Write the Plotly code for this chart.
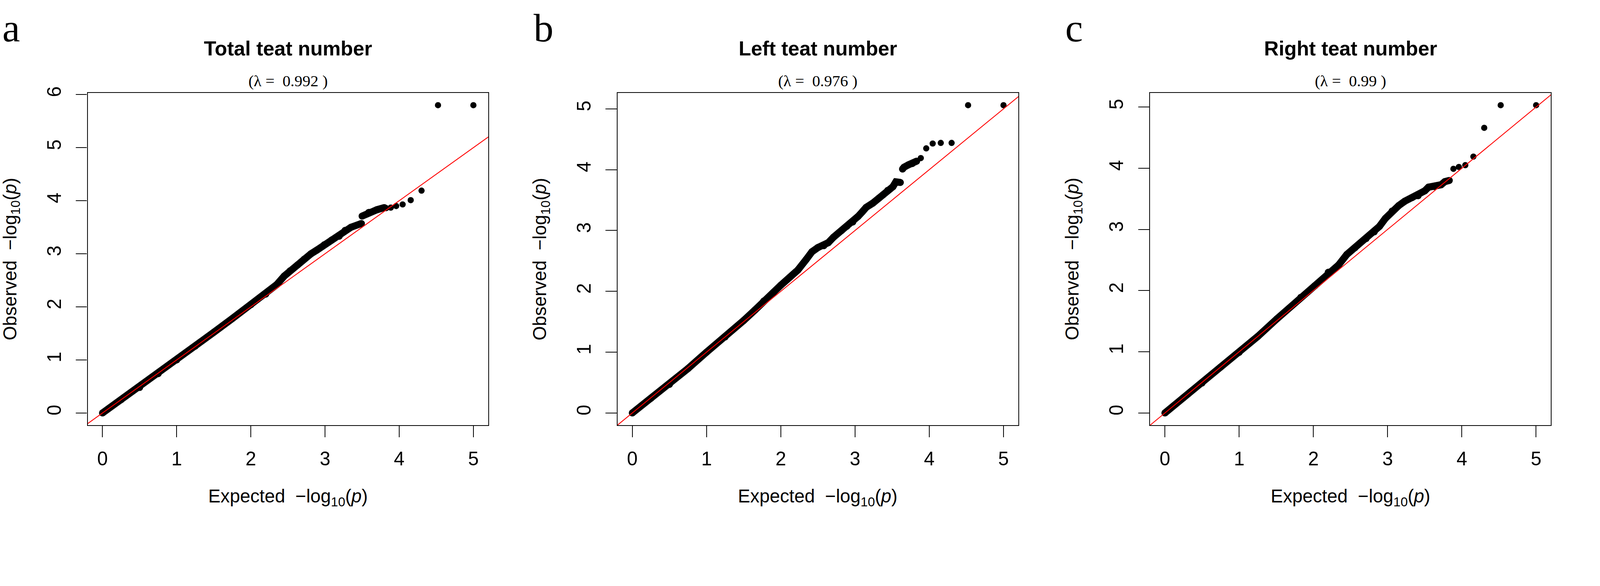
import plotly.graph_objects as go

# QQ plots of GWAS p-values
# x = expected -log10(p), y = observed -log10(p)
# dense part of each curve (None marks a small gap between clusters)
total_band_exp = [0.00, 0.25, 0.50, 0.75, 1.00, 1.25, 1.50, 1.75, 2.00, 2.20, 2.35, 2.45, 2.53, 2.63,
                  2.72, 2.81, 2.89, 2.99, 3.09, 3.19, 3.27, 3.35, 3.49, None, 3.50, 3.59, 3.70, 3.80]
total_band_obs = [0.00, 0.25, 0.48, 0.74, 1.00, 1.26, 1.52, 1.78, 2.04, 2.24, 2.42, 2.58, 2.68, 2.79,
                  2.90, 3.00, 3.07, 3.17, 3.26, 3.33, 3.44, 3.50, 3.57, None, 3.71, 3.78, 3.83, 3.87]
# top hits, drawn as single points
total_top_exp = [3.824, 3.886, 3.959, 4.046, 4.155, 4.301, 4.523, 5.0]
total_top_obs = [3.86, 3.87, 3.90, 3.93, 4.01, 4.19, 5.80, 5.80]

left_band_exp = [0.00, 0.25, 0.50, 0.75, 1.00, 1.25, 1.50, 1.65, 1.77, 1.90, 2.00, 2.12, 2.23, 2.34,
                 2.42, 2.50, 2.58, 2.64, 2.71, 2.82, 2.89, 2.97, 3.04, 3.10, 3.15, 3.24, 3.32, 3.38,
                 3.44, 3.51, 3.55, 3.61, None, 3.64, 3.66, 3.72, 3.77, 3.83]
left_band_obs = [0.00, 0.24, 0.47, 0.73, 1.00, 1.25, 1.52, 1.69, 1.84, 1.98, 2.10, 2.23, 2.35, 2.52,
                 2.65, 2.72, 2.75, 2.80, 2.89, 3.00, 3.07, 3.14, 3.23, 3.31, 3.38, 3.45, 3.53, 3.59,
                 3.66, 3.72, 3.80, 3.79, None, 4.01, 4.04, 4.08, 4.10, 4.14]
left_top_exp = [3.886, 3.959, 4.046, 4.155, 4.301, 4.523, 5.0]
left_top_obs = [4.19, 4.35, 4.43, 4.44, 4.44, 5.06, 5.06]

right_band_exp = [0.00, 0.25, 0.50, 0.75, 1.00, 1.25, 1.51, 1.83, 2.02, 2.20, 2.34, 2.45, 2.56, 2.71,
                  2.82, 2.89, 2.97, 3.06, 3.15, 3.23, 3.33, 3.41, 3.50, 3.55, 3.63, 3.72, 3.77, 3.83]
right_band_obs = [0.00, 0.25, 0.49, 0.75, 0.99, 1.25, 1.54, 1.89, 2.08, 2.30, 2.42, 2.59, 2.70, 2.85,
                  2.96, 3.05, 3.18, 3.30, 3.39, 3.46, 3.52, 3.55, 3.63, 3.69, 3.70, 3.73, 3.78, 3.80]
right_top_exp = [3.886, 3.959, 4.046, 4.155, 4.301, 4.523, 5.0]
right_top_obs = [3.99, 4.02, 4.05, 4.19, 4.66, 5.03, 5.03]

panel_letters = ['a', 'b', 'c']
panel_titles = ['Total teat number', 'Left teat number', 'Right teat number']
lambdas = ['0.992', '0.976', '0.99']

# y = x reference line
diag = [-1, 7]

SANS = 'Liberation Sans, Arial, sans-serif'
SERIF = 'Liberation Serif, Times New Roman, serif'

# the page is photographed at 1.1 device px per css px,
# so sizes below are measured in picture pixels and scaled down
S = 1 / 1.1


def px(v):
    return v * S


def r_range(vals):
    # R style axis range: data range extended by 4% on each side
    v = [a for a in vals if a is not None]
    lo, hi = min(v), max(v)
    pad = (hi - lo) * 0.04
    return [lo - pad, hi + pad]


def main():
    panels = [
        (total_band_exp, total_band_obs, total_top_exp, total_top_obs),
        (left_band_exp, left_band_obs, left_top_exp, left_top_obs),
        (right_band_exp, right_band_obs, right_top_exp, right_top_obs),
    ]
    x_domains = [[0.05496, 0.30596], [0.38696, 0.63818], [0.72074, 0.97196]]
    y_domain = [0.20453, 0.83611]
    letter_x = [0.001, 0.3338, 0.667]

    fig = go.Figure()
    annotations = []
    for i, (bx, by, tx, ty) in enumerate(panels):
        n = '' if i == 0 else str(i + 1)
        xa, ya = 'x' + n, 'y' + n

        fig.add_trace(go.Scatter(x=bx, y=by, xaxis=xa, yaxis=ya, mode='lines+markers',
                                 line=dict(color='black', width=px(20)),
                                 marker=dict(color='black', size=px(20)),
                                 connectgaps=False, showlegend=False))
        fig.add_trace(go.Scatter(x=tx, y=ty, xaxis=xa, yaxis=ya, mode='markers',
                                 marker=dict(color='black', size=px(17.5)), showlegend=False))
        fig.add_trace(go.Scatter(x=diag, y=diag, xaxis=xa, yaxis=ya, mode='lines',
                                 line=dict(color='red', width=px(2.4)), showlegend=False))

        axis_style = dict(showline=True, mirror=True, linecolor='black', linewidth=px(2.5),
                          ticks='outside', ticklen=px(31), tickwidth=px(2.5), tickcolor='black',
                          showgrid=False, zeroline=False, dtick=1,
                          tickfont=dict(family=SANS, size=px(54), color='black'))
        fig.layout['xaxis' + n] = dict(axis_style, domain=x_domains[i], anchor=ya,
                                       range=r_range(bx + tx), ticklabelstandoff=round(px(14.5)))
        fig.layout['yaxis' + n] = dict(axis_style, domain=y_domain, anchor=xa,
                                       range=r_range(by + ty), tickangle=-90,
                                       ticklabelstandoff=round(px(21)))

        dx, dy = xa + ' domain', ya + ' domain'
        annotations += [
            dict(text='<b>%s</b>' % panel_titles[i], xref=dx, yref=dy, x=0.5, y=1, yshift=px(125),
                 font=dict(family=SANS, size=px(57), color='black')),
            dict(text='(\u03bb =  %s )' % lambdas[i], xref=dx, yref=dy, x=0.5, y=1, yshift=px(33),
                 font=dict(family=SERIF, size=px(45), color='black')),
            dict(text='Expected  \u2212log<sub>10</sub>(<i>p</i>)', xref=dx, yref=dy,
                 x=0.5, y=0, yshift=-px(203), font=dict(family=SANS, size=px(52), color='black')),
            dict(text='Observed  \u2212log<sub>10</sub>(<i>p</i>)', xref=dx, yref=dy,
                 x=0, y=0.5, xshift=-px(216), textangle=-90,
                 font=dict(family=SANS, size=px(52), color='black')),
            dict(text=panel_letters[i], xref='paper', yref='paper', x=letter_x[i], y=0.9597,
                 xanchor='left', font=dict(family=SERIF, size=px(112), color='black')),
        ]

    for a in annotations:
        a.setdefault('xanchor', 'center')
        a['yanchor'] = 'middle'
        a['showarrow'] = False

    fig.update_layout(width=round(4494 * S), height=round(1501 * S),
                      margin=dict(l=0, r=0, t=0, b=0),
                      plot_bgcolor='white', paper_bgcolor='white', annotations=annotations)
    fig.write_html('out.html', config={'displayModeBar': False},
                   post_script="document.body.style.margin='0';")


if __name__ == '__main__':
    main()
